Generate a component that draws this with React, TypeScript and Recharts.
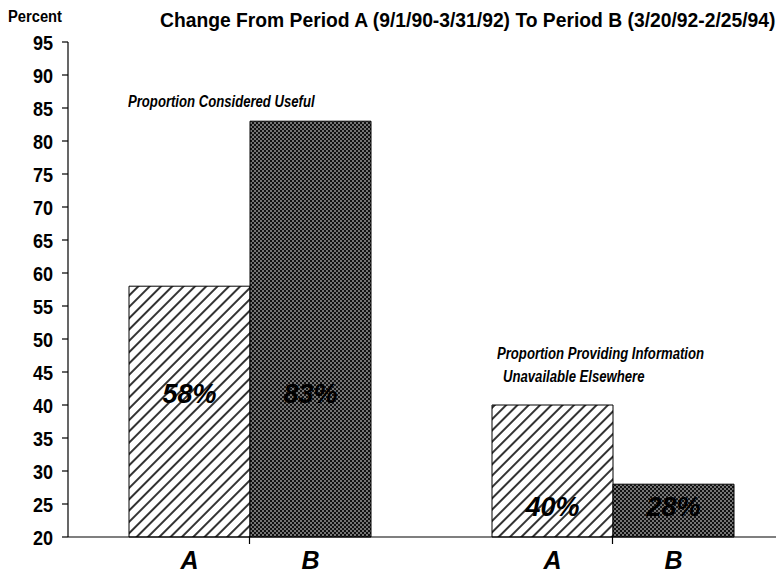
import React from "react";
import { BarChart, Bar, XAxis, YAxis, LabelList } from "recharts";

const groupNames = [
  "Proportion Considered Useful",
  "Proportion Providing Information Unavailable Elsewhere",
];
const periodA = [58, 40];
const periodB = [83, 28];
const periodNames = ["A", "B"];
const yTicks = [20, 25, 30, 35, 40, 45, 50, 55, 60, 65, 70, 75, 80, 85, 90, 95];
const chartTitle = "Change From Period A (9/1/90-3/31/92) To Period B (3/20/92-2/25/94)";
const yUnit = "Percent";
const annotationLines = [
  ["Proportion Considered Useful"],
  ["Proportion Providing Information", "Unavailable Elsewhere"],
];

const Y_MIN = 20;
const Y_MAX = 95;
const FONT = '"Liberation Sans", Arial, Helvetica, sans-serif';

const data = groupNames.map((g, i) => ({ group: g, A: periodA[i], B: periodB[i] }));

const ValueLabel = (props: any) => {
  const x = Number(props.x);
  const y = Number(props.y);
  const width = Number(props.width);
  const height = Number(props.height);
  const v = Number(props.value);
  const index = Number(props.index);
  const ppu = height / (v - Y_MIN);
  const minV = Math.min(periodA[index], periodB[index]);
  const bottom = y + height;
  const cy = bottom - (minV - Y_MIN) * ppu * 0.57;
  return (
    <text
      x={x + width / 2}
      y={cy}
      textAnchor="middle"
      dominantBaseline="central"
      fontStyle="italic"
      fontWeight="bold"
      fontSize={27}
      fontFamily={FONT}
      fill="#000"
    >
      {v}%
    </text>
  );
};

const makePeriodLabel = (name: string) => (props: any) => {
  const x = Number(props.x);
  const y = Number(props.y);
  const width = Number(props.width);
  const height = Number(props.height);
  return (
    <text
      x={x + width / 2}
      y={y + height + 32}
      textAnchor="middle"
      fontStyle="italic"
      fontWeight="bold"
      fontSize={25}
      fontFamily={FONT}
      fill="#000"
    >
      {name}
    </text>
  );
};

const YTick = (props: any) => {
  const x = Number(props.x);
  const y = Number(props.y);
  const value = props.payload ? props.payload.value : "";
  return (
    <g transform={`translate(${x},${y}) scale(0.86,1)`}>
      <text
        x={0}
        y={0}
        dy="0.36em"
        textAnchor="end"
        fontSize={21}
        fontWeight="bold"
        fontFamily={FONT}
        fill="#000"
      >
        {value}
      </text>
    </g>
  );
};

const annoStyle: React.CSSProperties = {
  position: "absolute",
  fontFamily: FONT,
  fontSize: 16,
  fontWeight: "bold",
  fontStyle: "italic",
  lineHeight: "18px",
  whiteSpace: "nowrap",
  transform: "scaleX(0.82)",
  transformOrigin: "0 0",
};

export default function App() {
  return (
    <div
      style={{
        position: "relative",
        width: 772,
        height: 567,
        fontFamily: FONT,
        color: "#000",
      }}
    >
      <BarChart
        width={772}
        height={567}
        data={data}
        margin={{ top: 34, right: 0, bottom: 8, left: 0 }}
        barGap={0}
        barSize={121}
      >
        <defs>
          <pattern
            id="hatch"
            patternUnits="userSpaceOnUse"
            width={8}
            height={8}
            patternTransform="rotate(45)"
          >
            <rect x={0} y={0} width={8} height={8} fill="#fff" />
            <line x1={1} y1={0} x2={1} y2={8} stroke="#000" strokeWidth={1.6} />
          </pattern>
          <pattern id="dots" patternUnits="userSpaceOnUse" width={4} height={4}>
            <rect x={0} y={0} width={4} height={4} fill="#111" />
            <rect x={0.3} y={0.3} width={1.4} height={1.4} fill="#ddd" />
            <rect x={2.3} y={2.3} width={1.4} height={1.4} fill="#ddd" />
          </pattern>
        </defs>
        <XAxis
          dataKey="group"
          padding={{ left: 0, right: -14 }}
          axisLine={{ stroke: "#000", strokeWidth: 1.2 }}
          tickLine={{ stroke: "#000", strokeWidth: 1.2 }}
          tickSize={7}
          tickFormatter={() => ""}
          height={30}
        />
        <YAxis
          domain={[Y_MIN, Y_MAX]}
          ticks={yTicks}
          width={60}
          interval={0}
          axisLine={{ stroke: "#000", strokeWidth: 1.2 }}
          tickLine={{ stroke: "#000", strokeWidth: 1.2 }}
          tickSize={6}
          tickMargin={9}
          tick={YTick}
        />
        <Bar
          dataKey="A"
          name={periodNames[0]}
          fill="url(#hatch)"
          stroke="#000"
          strokeWidth={1}
          isAnimationActive={false}
        >
          <LabelList dataKey="A" content={ValueLabel} />
          <LabelList dataKey="A" content={makePeriodLabel(periodNames[0])} />
        </Bar>
        <Bar
          dataKey="B"
          name={periodNames[1]}
          fill="url(#dots)"
          stroke="#000"
          strokeWidth={1}
          isAnimationActive={false}
        >
          <LabelList dataKey="B" content={ValueLabel} />
          <LabelList dataKey="B" content={makePeriodLabel(periodNames[1])} />
        </Bar>
      </BarChart>

      <div
        style={{
          position: "absolute",
          left: 0,
          top: 0,
          fontSize: 16,
          fontWeight: "bold",
          lineHeight: "18px",
          whiteSpace: "nowrap",
          transform: "scaleX(0.92)",
          transformOrigin: "0 0",
        }}
      >
        {yUnit}
      </div>
      <div
        style={{
          position: "absolute",
          left: 152,
          top: 3,
          fontSize: 19.3,
          fontWeight: "bold",
          lineHeight: "20px",
          whiteSpace: "nowrap",
        }}
      >
        {chartTitle}
      </div>
      <div style={{ ...annoStyle, left: 120, top: 85 }}>{annotationLines[0][0]}</div>
      <div style={{ ...annoStyle, left: 489, top: 337 }}>{annotationLines[1][0]}</div>
      <div style={{ ...annoStyle, left: 495, top: 360 }}>{annotationLines[1][1]}</div>
    </div>
  );
}
